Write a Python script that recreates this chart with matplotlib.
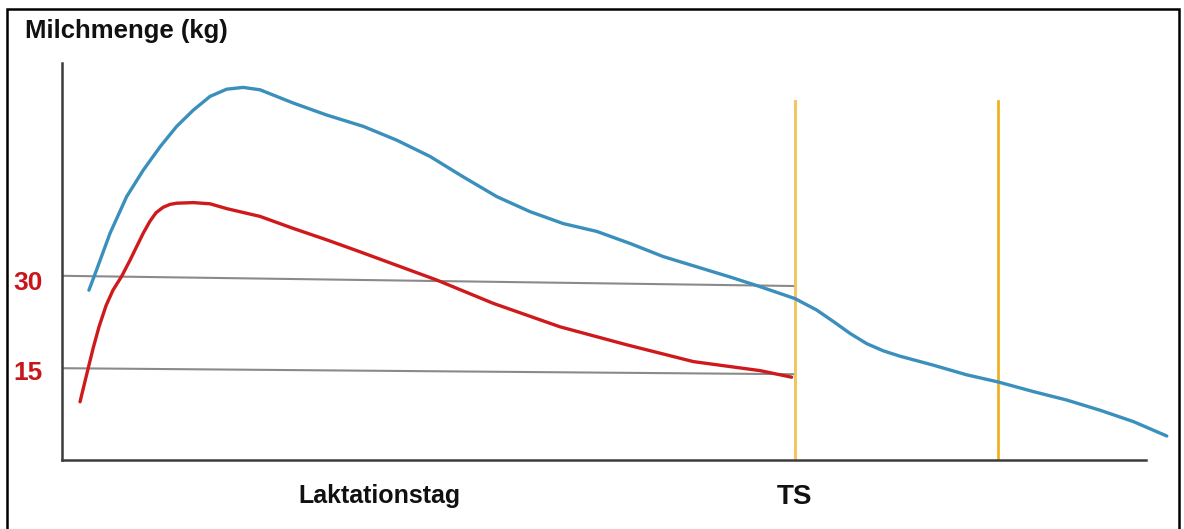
import matplotlib
matplotlib.use("Agg")
import matplotlib.pyplot as plt
from matplotlib.patches import Rectangle

plt.rcParams['font.family'] = ['Liberation Sans', 'DejaVu Sans']

# --- data (x: Laktationstag, y: Milchmenge in kg) ---
high_x = [11.2, 14.4, 20.0, 26.9, 33.8, 40.8, 47.7, 54.6, 61.6, 68.5, 75.4, 82.4,
          89.3, 96.2, 110.1, 125.4, 139.3, 153.1, 166.9, 180.9, 194.7, 208.6, 222.5,
          236.3, 250.2, 264.1, 278.0, 290.4, 305.0, 314.0, 320.9, 327.9, 334.8, 341.7,
          348.7, 362.6, 376.4, 389.6, 404.2, 418.0, 431.9, 445.8, 459.7]
high_y = [28.3, 31.7, 37.8, 43.9, 48.3, 52.2, 55.6, 58.3, 60.6, 61.8, 62.1, 61.7,
          60.6, 59.5, 57.5, 55.6, 53.3, 50.6, 47.2, 43.9, 41.4, 39.4, 38.1,
          36.1, 33.9, 32.2, 30.5, 28.9, 26.9, 25.0, 23.1, 21.1, 19.4, 18.2,
          17.3, 15.8, 14.2, 13.0, 11.4, 10.0, 8.3, 6.4, 4.0]

low_x = [7.5, 10.9, 13.0, 15.4, 18.3, 21.2, 24.8, 28.3, 31.1, 33.8, 36.6, 39.1,
         42.0, 44.9, 47.7, 54.6, 61.6, 68.5, 82.4, 96.2, 110.1, 124.0, 155.9,
         179.5, 207.2, 235.0, 262.7, 290.4, 303.6]
low_y = [9.7, 15.3, 18.7, 22.2, 25.7, 28.3, 30.6, 33.3, 35.6, 37.8, 39.8, 41.2,
         42.1, 42.6, 42.8, 42.9, 42.7, 41.9, 40.6, 38.6, 36.7, 34.7, 30.0,
         26.1, 22.2, 19.2, 16.4, 14.9, 13.8]

ref30_x = [0, 304.2]
ref30_y = [30.7, 29.0]
ref15_x = [0, 304.2]
ref15_y = [15.3, 14.3]

ts_days = [305.0, 389.5]
ts_top = 59.8

ytick_vals = [15, 30]
ytick_labels = ["15", "30"]
xtick_vals = [132.0, 305.0]
xtick_labels = ["Laktationstag", "TS"]
ylabel_text = "Milchmenge (kg)"

W, H = 1184, 529
fig = plt.figure(figsize=(W / 100, H / 100), dpi=100)
px = 305 / 733.0
ax = fig.add_axes([62 / W, (H - 460) / H, (1180 - 62) / W, (460 - 63) / H])
ax.set_xlim(0, (1180 - 62) * px)
ax.set_ylim(0, (460 - 63) / 6.0)

for s in ['top', 'right']:
    ax.spines[s].set_visible(False)
for s in ['left', 'bottom']:
    ax.spines[s].set_color('#3c3c3c')
    ax.spines[s].set_linewidth(1.8)
ax.spines['bottom'].set_bounds(0, (1146 - 62) * px)

# reference lines
ax.plot(ref30_x, ref30_y, color='#8a8a8a', lw=1.5, zorder=2)
ax.plot(ref15_x, ref15_y, color='#8a8a8a', lw=1.5, zorder=2)

# TS lines
ax.plot([ts_days[0], ts_days[0]], [0, ts_top], color='#F3C664', lw=2.2, zorder=1)
ax.plot([ts_days[1], ts_days[1]], [0, ts_top], color='#EFB226', lw=2.0, zorder=1)

# curves
ax.plot(high_x, high_y, color='#3A8FBC', lw=2.4, zorder=3, solid_capstyle='round',
        solid_joinstyle='round', clip_on=False)
ax.plot(low_x, low_y, color='#CF1A1C', lw=2.4, zorder=3, solid_capstyle='round',
        solid_joinstyle='round')

ax.set_yticks(ytick_vals)
ax.set_yticklabels(ytick_labels)
ax.tick_params(axis='y', length=0, pad=14, labelcolor='#C8161C', labelsize=19)
for t in ax.get_yticklabels():
    t.set_fontweight('bold')

ax.set_xticks(xtick_vals)
ax.set_xticklabels(xtick_labels)
ax.tick_params(axis='x', length=0, pad=17, labelcolor='#111111')
xl = ax.get_xticklabels()
xl[0].set_fontsize(18)
xl[1].set_fontsize(20)
for t in xl:
    t.set_fontweight('bold')

fig.text(25 / W, 1 - 31 / H, ylabel_text, fontsize=18.5, fontweight='bold',
         color='#111111', ha='left', va='center')

# outer frame
fig.patches.append(Rectangle((7 / W, -0.05), (1179 - 7) / W, 1.05 - 9 / H,
                             transform=fig.transFigure, fill=False,
                             edgecolor='black', lw=1.8))

fig.savefig('out.png', dpi=100)
